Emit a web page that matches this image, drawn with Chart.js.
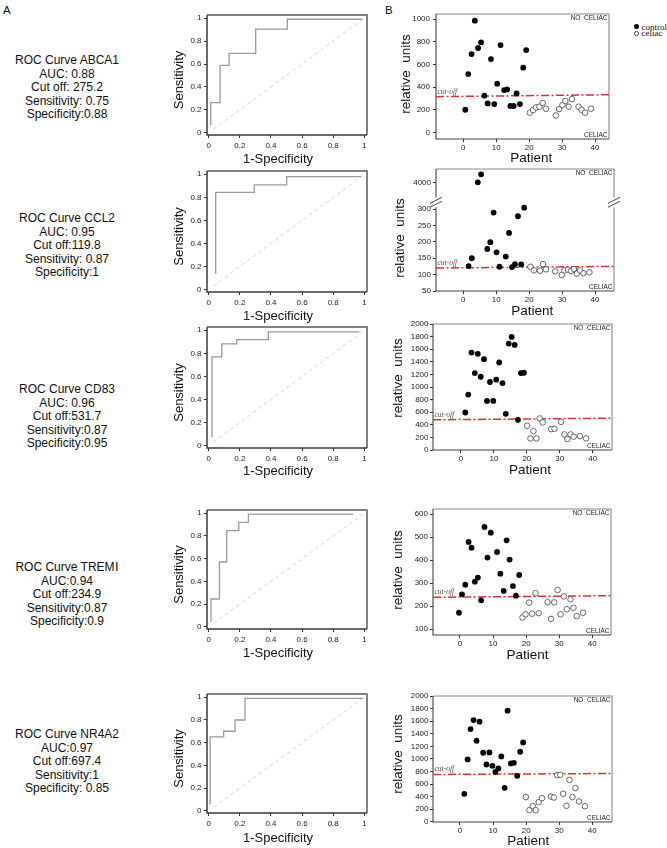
<!DOCTYPE html>
<html><head><meta charset="utf-8">
<script src="https://cdn.jsdelivr.net/npm/chart.js@4.4.1/dist/chart.umd.min.js"></script>
<style>
html,body{margin:0;padding:0;background:#fff;}
body{width:667px;height:848px;overflow:hidden;position:relative;font-family:"Liberation Sans",Arial,sans-serif;color:#111;}
.panel{position:absolute;}
.stats{position:absolute;left:0;width:134px;text-align:center;font-size:12px;line-height:13.5px;white-space:nowrap;}
.lbl{position:absolute;font-size:11.5px;line-height:12px;}
.leg{position:absolute;font-family:"Liberation Serif","Times New Roman",serif;font-size:9px;line-height:8px;white-space:nowrap;color:#111;}
.mk{position:absolute;width:4.6px;height:4.6px;border-radius:50%;box-sizing:border-box;}
</style></head>
<body>
<div class="lbl" style="left:3px;top:4px;">A</div>
<div class="lbl" style="left:385px;top:4px;">B</div>

<div class="stats" style="top:54.3px;">ROC Curve ABCA1<br>AUC: 0.88<br>Cut off: 275.2<br>Sensitivity: 0.75<br>Specificity:0.88</div>
<div class="stats" style="top:212.3px;">ROC Curve CCL2<br>AUC: 0.95<br>Cut off:119.8<br>Sensitivity: 0.87<br>Specificity:1</div>
<div class="stats" style="top:383.3px;">ROC Curve CD83<br>AUC: 0.96<br>Cut off:531.7<br>Sensitivity:0.87<br>Specificity:0.95</div>
<div class="stats" style="top:561.3px;">ROC Curve TREMⅠ<br>AUC:0.94<br>Cut off:234.9<br>Sensitivity:0.87<br>Specificity:0.9</div>
<div class="stats" style="top:728.3px;">ROC Curve NR4A2<br>AUC:0.97<br>Cut off:697.4<br>Sensitivity:1<br>Specificity: 0.85</div>

<div class="mk" style="left:634.4px;top:24.4px;background:#000;"></div>
<div class="leg" style="left:641.5px;top:22.7px;">control</div>
<div class="mk" style="left:634.4px;top:31px;background:#fff;border:0.8px solid #444;"></div>
<div class="leg" style="left:641.5px;top:29.3px;">celiac</div>

<script>
// ---------------- DATA ----------------
const rocTicks = [0, 0.2, 0.4, 0.6, 0.8, 1];
const rocTickLabels = ['0', '0.2', '0.4', '0.6', '0.8', '1'];
const chanceX = [0.03, 0.99];
const chanceY = [0.03, 0.99];

const abca1Fpr = [0.013, 0.013, 0.073, 0.131, 0.302, 0.505, 0.987];
const abca1Tpr = [0.064, 0.263, 0.588, 0.693, 0.904, 0.991, 0.991];
const ccl2Fpr = [0.045, 0.045, 0.293, 0.501, 0.979];
const ccl2Tpr = [0.136, 0.843, 0.907, 0.980, 0.980];
const cd83Fpr = [0.021, 0.021, 0.084, 0.180, 0.383, 0.968];
const cd83Tpr = [0.073, 0.769, 0.882, 0.919, 0.986, 0.986];
const trem1Fpr = [0.015, 0.015, 0.069, 0.116, 0.193, 0.255, 0.929];
const trem1Tpr = [0.041, 0.244, 0.570, 0.846, 0.919, 0.991, 0.991];
const nr4a2Fpr = [0.009, 0.009, 0.096, 0.169, 0.233, 0.994];
const nr4a2Tpr = [0.058, 0.650, 0.700, 0.799, 0.990, 0.990];

const patientTicks = [0, 10, 20, 30, 40];
const patientTickLabels = ['0', '10', '20', '30', '40'];

const abca1CtrlX = [0.6,1.5,2.5,3.5,4.5,5.4,6.4,7.4,8.4,9.4,10.3,11.3,12.4,13.3,14.3,15.3,16.2,17.2,18.2,19.1];
const abca1CtrlY = [202,516,692,985,745,795,326,258,648,252,431,771,375,381,235,235,346,252,572,727];
const abca1CelX = [20.2,21.2,22.1,23.1,24.1,25.1,28.1,29.1,30.1,31.0,32.0,33.0,35.0,35.9,37.0,38.8];
const abca1CelY = [176,199,223,229,261,211,152,208,243,279,229,296,229,202,176,211];
const abca1Cut = [317, 334];
const abca1YTicks = [0, 200, 400, 600, 800, 1000];

const ccl2CtrlX = [1.6,2.6,4.4,5.4,7.3,8.2,9.2,10.1,11.0,12.9,13.9,14.8,15.7,16.6,17.6,18.5];
const ccl2CtrlY = [126,150,4000,4200,178,199,289,168,124,155,227,123,132,278,131,304];
const ccl2CelX = [20.4,21.5,23.3,24.2,25.1,27.9,29.9,30.7,31.8,32.7,33.6,34.5,35.4,36.5,38.3];
const ccl2CelY = [124,113,112,132,116,110,99,113,115,111,117,103,113,104,107];
const ccl2Cut = [120, 125];
const ccl2YTicks = [50, 100, 150, 200, 250, 300, 4000];

const cd83CtrlX = [1.3,2.2,3.2,4.2,5.1,6.0,7.0,7.9,8.8,9.8,10.7,11.6,12.6,13.6,14.5,15.4,16.3,17.3,18.2,19.1];
const cd83CtrlY = [595,879,1547,1221,1526,1163,1442,779,1079,779,1116,1389,1063,574,1689,1795,1668,479,1221,1226];
const cd83CelX = [20.1,21.1,22.0,22.9,23.9,24.8,27.4,28.4,30.4,31.4,32.3,33.3,34.2,36.1,38.0];
const cd83CelY = [384,184,300,184,500,437,332,337,447,247,174,247,211,221,184];
const cd83Cut = [479, 505];
const cd83YTicks = [0,200,400,600,800,1000,1200,1400,1600,1800,2000];

const trem1CtrlX = [-0.3,0.6,1.6,2.6,3.5,4.5,5.4,6.4,7.4,8.3,9.3,11.2,12.2,13.2,14.1,15.0,16.0,16.9,17.9];
const trem1CtrlY = [172,252,294,480,455,307,325,226,545,412,520,436,342,267,487,403,288,246,336];
const trem1CelX = [18.9,19.8,20.9,21.8,22.8,23.8,26.5,27.5,28.5,29.5,30.4,31.4,32.3,33.4,34.3,35.3,37.2];
const trem1CelY = [151,165,216,168,257,170,218,145,217,271,165,243,187,230,193,157,172];
const trem1Cut = [239, 246];
const trem1YTicks = [100, 200, 300, 400, 500, 600];

const nr4a2CtrlX = [1.3,2.3,3.2,4.1,5.0,5.9,7.0,8.0,8.9,9.8,10.7,11.6,12.5,13.5,14.4,15.4,16.3,17.3,18.2,19.1];
const nr4a2CtrlY = [446,992,1475,1618,1289,1592,1098,912,1103,891,796,849,1040,541,1767,928,939,732,1114,1263];
const nr4a2CelX = [19.9,21.0,22.0,22.9,23.8,24.8,27.5,28.4,29.4,30.3,31.2,32.2,33.1,34.0,34.9,36.0,37.8];
const nr4a2CelY = [393,186,249,186,313,377,403,387,743,748,446,255,668,393,536,324,249];
const nr4a2Cut = [753, 769];
const nr4a2YTicks = [0,200,400,600,800,1000,1200,1400,1600,1800,2000];

// ---------------- RENDERING ----------------
Chart.defaults.font.family = '"Liberation Sans", Arial, sans-serif';
Chart.defaults.color = '#222';
const FONT = '"Liberation Sans", Arial, sans-serif';
const PADL = 52, PADR = 10, PADT = 8, PADB = 34;

// broken axis for CCL2: values above the break are compressed onto the upper segment
const BRK = 320.4, UPPER0 = 3500, UPPERK = 0.122;
function brk(v) { return v < 1000 ? v : BRK + (v - UPPER0) * UPPERK; }

const deco = {
  id: 'deco',
  beforeDatasetsDraw(chart, args, o) {
    if (!o.lb) return;
    const {ctx, chartArea: a} = chart;
    ctx.save();
    ctx.lineWidth = o.bw;
    ctx.strokeStyle = o.tr;
    ctx.beginPath(); ctx.moveTo(a.left, a.top); ctx.lineTo(a.right, a.top); ctx.lineTo(a.right, a.bottom); ctx.stroke();
    ctx.strokeStyle = o.lb;
    ctx.beginPath(); ctx.moveTo(a.left, a.top); ctx.lineTo(a.left, a.bottom); ctx.lineTo(a.right, a.bottom); ctx.stroke();
    ctx.restore();
  },
  afterDraw(chart, args, o) {
    if (!o.lb) return;
    const {ctx, chartArea: a} = chart;
    ctx.save();
    ctx.fillStyle = '#111';
    ctx.textAlign = 'center'; ctx.textBaseline = 'middle';
    ctx.font = o.tf + 'px ' + FONT;
    ctx.fillText(o.xt, o.xtx - o.ox, o.xty - o.oy);
    ctx.save();
    ctx.translate(o.ytx - o.ox, o.yty - o.oy);
    ctx.rotate(-Math.PI / 2);
    ctx.fillText(o.yt, 0, 0);
    ctx.restore();
    if (o.corner) {
      ctx.font = '6.5px ' + FONT;
      ctx.fillStyle = '#222';
      ctx.textAlign = 'right';
      ctx.fillText('NO  CELIAC', a.right - 1.5, a.top + 3.8);
      ctx.fillText('CELIAC', a.right - 1.5, a.bottom - 4);
    }
    if (o.cut !== undefined) {
      const y = chart.scales.y.getPixelForValue(o.cut);
      ctx.font = 'italic 7.5px "Liberation Serif", "Times New Roman", serif';
      ctx.fillStyle = '#5a4d4d';
      ctx.textAlign = 'left'; ctx.textBaseline = 'alphabetic';
      ctx.fillText('cut-off', a.left + 1.5, y - 3);
    }
    if (o.brk !== undefined) {
      const y = chart.scales.y.getPixelForValue(o.brk);
      [a.left, a.right].forEach(x => {
        ctx.fillStyle = '#fff';
        ctx.fillRect(x - 2, y - 5, 4, 10);
        ctx.strokeStyle = '#333'; ctx.lineWidth = 0.9;
        ctx.beginPath();
        ctx.moveTo(x - 6, y + 1); ctx.lineTo(x + 6, y - 5);
        ctx.moveTo(x - 6, y + 5); ctx.lineTo(x + 6, y - 1);
        ctx.stroke();
      });
    }
    ctx.restore();
  }
};
Chart.register(deco);

function axis(pos, min, max, ticks, labels, pad) {
  const horiz = pos === 'bottom';
  return {
    type: 'linear', position: pos, min, max,
    afterBuildTicks: s => { s.ticks = ticks.map(v => ({value: v})); },
    afterFit: s => { if (horiz) s.height = PADB; else s.width = PADL; },
    ticks: {autoSkip: false, maxRotation: 0, padding: pad, font: {size: 8}, color: '#222',
            callback: (v, i) => labels[i]},
    grid: {display: true, drawOnChartArea: false, drawTicks: true, tickLength: 3, color: '#333', lineWidth: 1},
    border: {display: false},
    title: {display: false}
  };
}

function panel(p) {
  const ox = p.box.l - PADL, oy = p.box.t - PADT;
  const div = document.createElement('div');
  div.className = 'panel';
  div.style.left = ox + 'px'; div.style.top = oy + 'px';
  div.style.width = (p.box.r - p.box.l + PADL + PADR) + 'px';
  div.style.height = (p.box.b - p.box.t + PADT + PADB) + 'px';
  const cv = document.createElement('canvas');
  div.appendChild(cv);
  document.body.appendChild(div);
  new Chart(cv, {
    type: 'scatter',
    data: {datasets: p.datasets},
    options: {
      responsive: true, maintainAspectRatio: false, animation: false, events: [],
      layout: {padding: {left: 0, top: PADT, right: PADR, bottom: 0}},
      plugins: {legend: {display: false}, tooltip: {enabled: false},
                deco: Object.assign({ox, oy}, p.deco)},
      scales: {
        x: axis('bottom', p.x[0], p.x[1], p.xTicks, p.xLabels, p.xPad),
        y: axis('left', p.y[0], p.y[1], p.yTicks, p.yLabels, p.yPad)
      }
    }
  });
}

function rocSets(fpr, tpr) {
  return [
    {data: fpr.map((x, i) => ({x, y: tpr[i]})), showLine: true, stepped: 'before',
     borderColor: '#9b9b9b', borderWidth: 1.3, pointRadius: 0, fill: false},
    {data: chanceX.map((x, i) => ({x, y: chanceY[i]})), showLine: true,
     borderColor: '#d2d2d2', borderWidth: 1, borderDash: [4, 3], pointRadius: 0, fill: false}
  ];
}
function scatSets(cx, cy, kx, ky, cut, xr, f) {
  f = f || (v => v);
  return [
    {data: cx.map((x, i) => ({x, y: f(cy[i])})), pointRadius: 2.9, backgroundColor: '#000', borderWidth: 0},
    {data: kx.map((x, i) => ({x, y: f(ky[i])})), pointRadius: 2.8, backgroundColor: '#fff', borderColor: '#444', borderWidth: 0.8},
    {data: [{x: xr[0], y: cut[0]}, {x: xr[1], y: cut[1]}], showLine: true, borderColor: '#d7352f',
     borderWidth: 1.5, borderDash: [8, 2.5, 2, 2.5], pointRadius: 0, fill: false}
  ];
}

const rocX = [-0.011, 1.017], rocY = [-0.02, 1.028];
const rocRows = [
  {fpr: abca1Fpr, tpr: abca1Tpr, t: 15, b: 135, xty: 159},
  {fpr: ccl2Fpr, tpr: ccl2Tpr, t: 171, b: 292, xty: 316.7},
  {fpr: cd83Fpr, tpr: cd83Tpr, t: 327, b: 448, xty: 471.7},
  {fpr: trem1Fpr, tpr: trem1Tpr, t: 510, b: 629, xty: 653.3},
  {fpr: nr4a2Fpr, tpr: nr4a2Tpr, t: 694, b: 813, xty: 838.3}
];
rocRows.forEach(r => {
  panel({
    box: {l: 207, r: 367, t: r.t, b: r.b},
    x: rocX, y: rocY, xTicks: rocTicks, xLabels: rocTickLabels, yTicks: rocTicks, yLabels: rocTickLabels,
    xPad: 3, yPad: 2.5,
    datasets: rocSets(r.fpr, r.tpr),
    deco: {lb: '#3a3a3a', tr: '#5a5a5a', bw: 1.5, tf: 13,
           xt: '1-Specificity', xtx: 278, xty: r.xty,
           yt: 'Sensitivity', ytx: 179.3, yty: (r.t + r.b) / 2 + 5}
  });
});

const scatRows = [
  {box: {l: 436, r: 609, t: 14, b: 139}, x: [-8.29, 44.25], y: [-55, 1044],
   sets: [abca1CtrlX, abca1CtrlY, abca1CelX, abca1CelY, abca1Cut], yTicks: abca1YTicks, yPad: 3,
   xtx: 531.3, xty: 158.5, ytx: 406.7, yty: 74},
  {box: {l: 436, r: 614, t: 169, b: 291}, x: [-8.29, 45.77], y: [50, 422],
   sets: [ccl2CtrlX, ccl2CtrlY, ccl2CelX, ccl2CelY, ccl2Cut], yTicks: ccl2YTicks, yPad: 2, f: brk, brk: BRK,
   xtx: 532.2, xty: 311.7, ytx: 400.7, yty: 238},
  {box: {l: 433, r: 612, t: 324, b: 450}, x: [-8.5, 45.86], y: [0, 2000],
   sets: [cd83CtrlX, cd83CtrlY, cd83CelX, cd83CelY, cd83Cut], yTicks: cd83YTicks, yPad: 1.5,
   xtx: 530, xty: 470, ytx: 398.3, yty: 378},
  {box: {l: 433, r: 611, t: 509, b: 635}, x: [-8.16, 45.65], y: [75.2, 623],
   sets: [trem1CtrlX, trem1CtrlY, trem1CelX, trem1CelY, trem1Cut], yTicks: trem1YTicks, yPad: 2,
   xtx: 527.5, xty: 655, ytx: 398.3, yty: 570},
  {box: {l: 433, r: 612, t: 696, b: 822}, x: [-8.16, 45.96], y: [-2, 2000],
   sets: [nr4a2CtrlX, nr4a2CtrlY, nr4a2CelX, nr4a2CelY, nr4a2Cut], yTicks: nr4a2YTicks, yPad: 1.5,
   xtx: 528.3, xty: 841.7, ytx: 398.3, yty: 754}
];
scatRows.forEach(r => {
  const s = r.sets;
  const f = r.f || (v => v);
  const deco = {lb: '#444', tr: '#888', bw: 1.1, tf: 13.5, corner: true, cut: s[4][0],
                xt: 'Patient', xtx: r.xtx, xty: r.xty,
                yt: 'relative  units', ytx: r.ytx, yty: r.yty};
  if (r.brk !== undefined) deco.brk = r.brk;
  panel({
    box: r.box, x: r.x, y: r.y,
    xTicks: patientTicks, xLabels: patientTickLabels,
    yTicks: r.yTicks.map(f), yLabels: r.yTicks.map(String),
    xPad: 1, yPad: r.yPad,
    datasets: scatSets(s[0], s[1], s[2], s[3], s[4], r.x, r.f),
    deco
  });
});
</script>
</body></html>
